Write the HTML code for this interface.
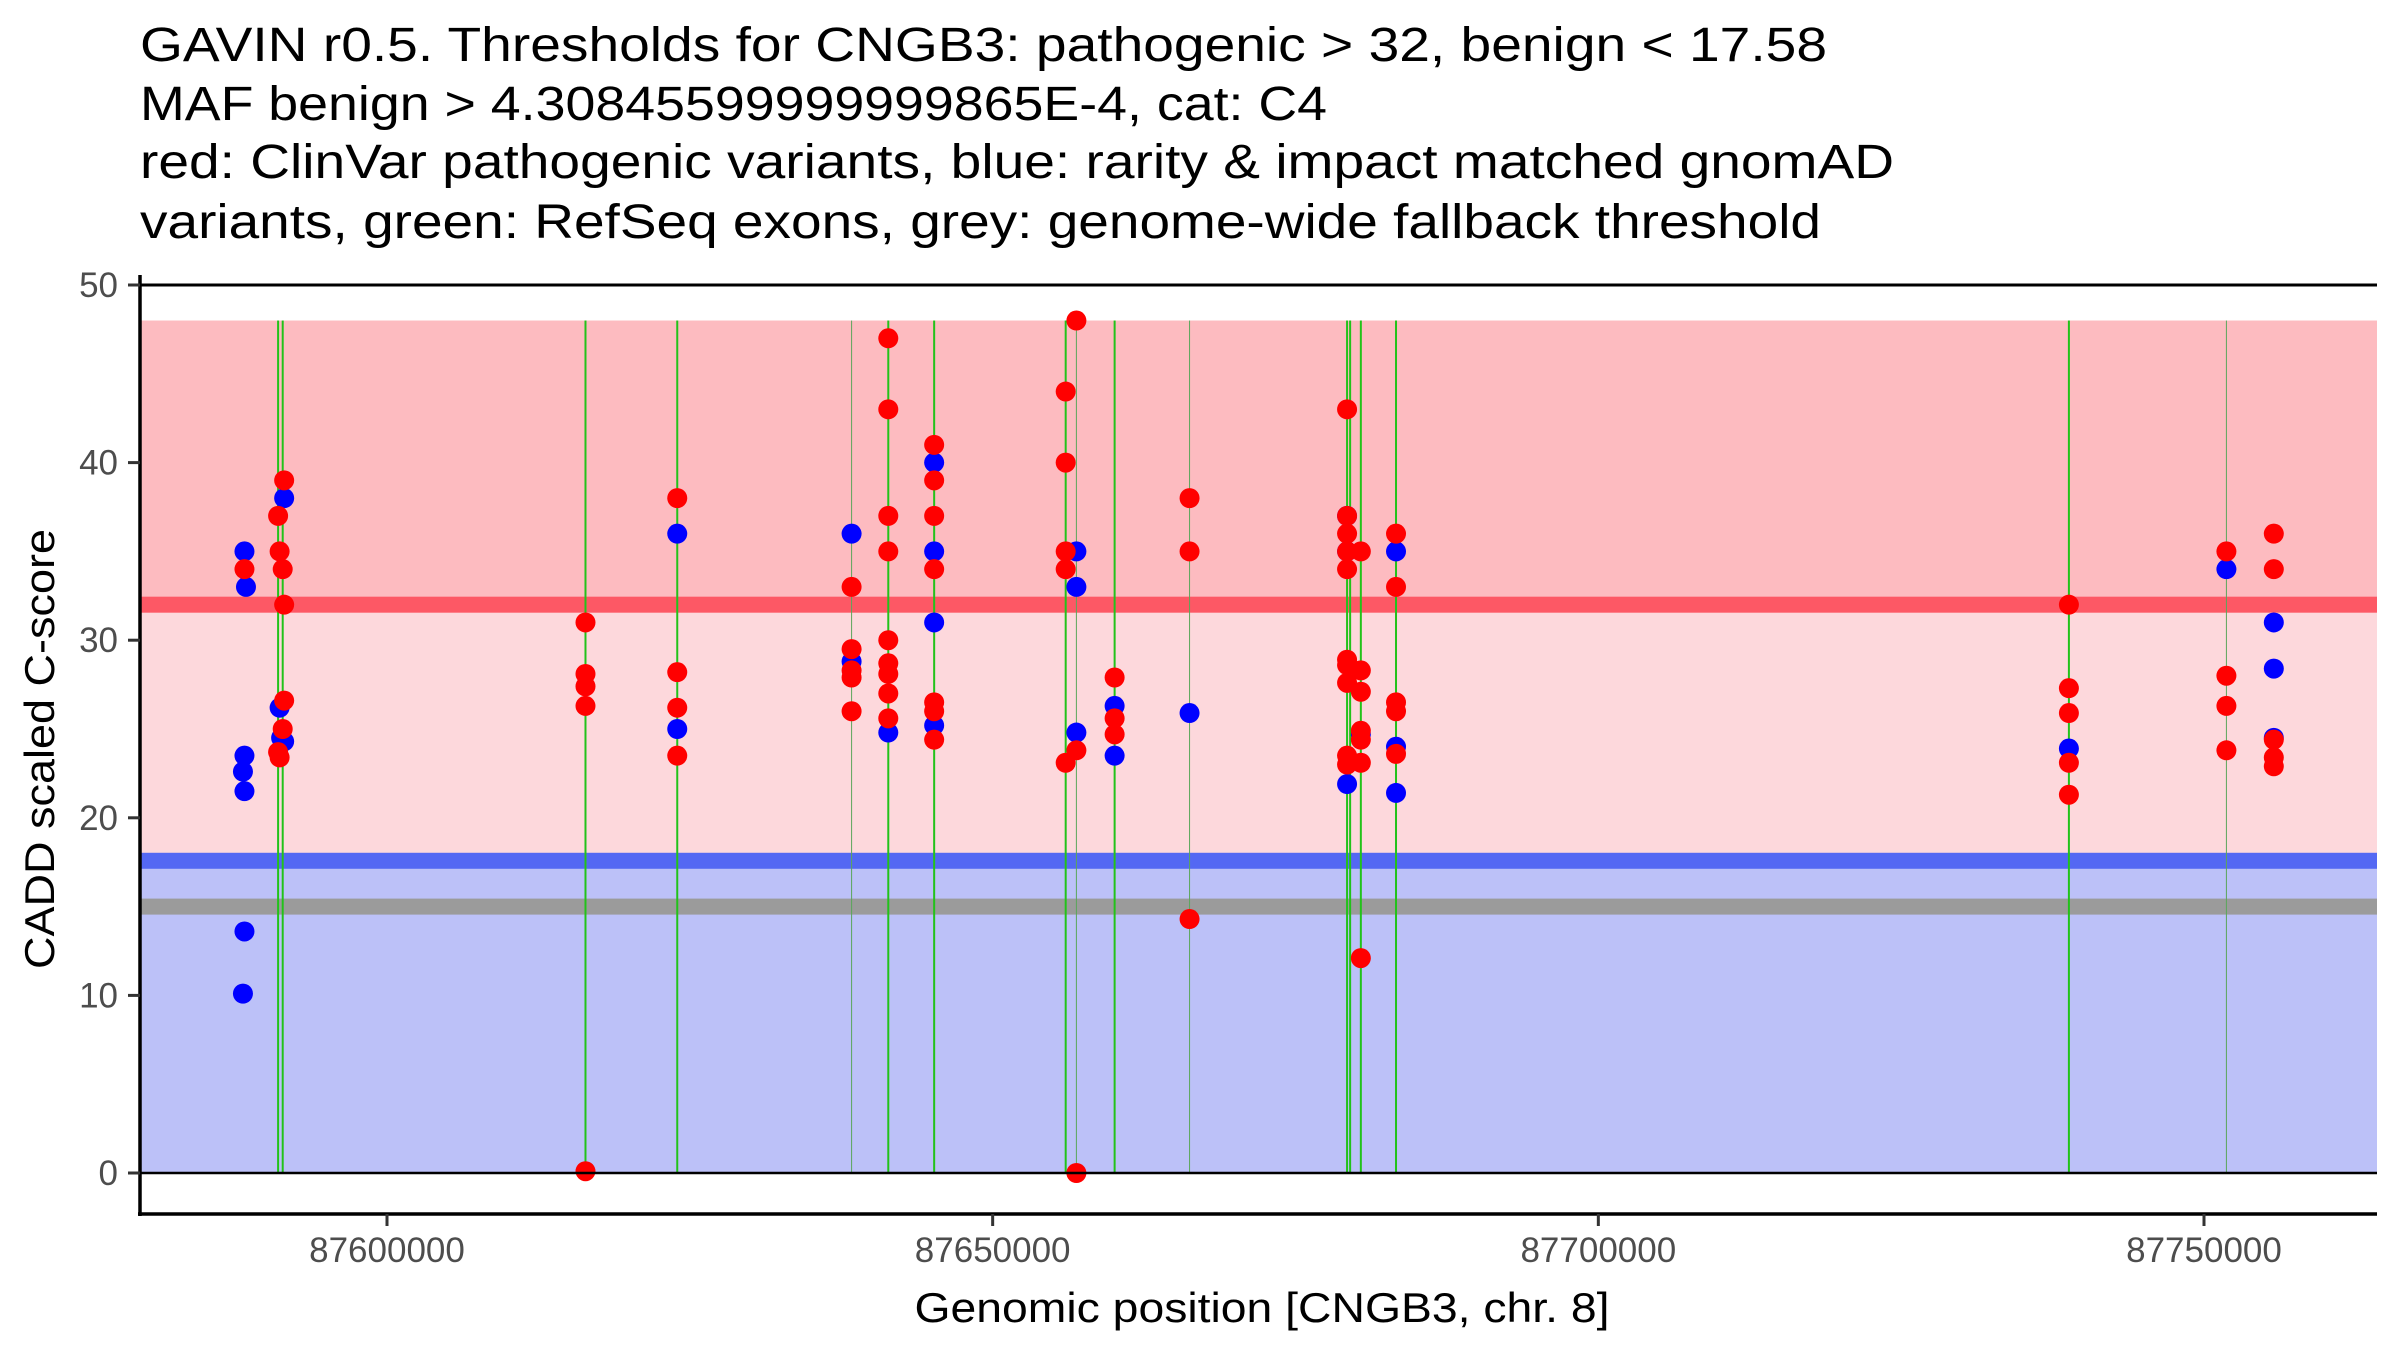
<!DOCTYPE html>
<html><head><meta charset="utf-8"><style>
html,body{margin:0;padding:0;background:#fff;}
svg{display:block;font-family:"Liberation Sans",Arial,sans-serif;}
</style></head><body>
<svg id="chart" width="2400" height="1350" viewBox="0 0 2400 1350" xmlns="http://www.w3.org/2000/svg">
<g font-size="48" fill="#000">
<text x="140" y="61" textLength="1687" lengthAdjust="spacingAndGlyphs">GAVIN r0.5. Thresholds for CNGB3: pathogenic &gt; 32, benign &lt; 17.58</text>
<text x="140" y="120" textLength="1187" lengthAdjust="spacingAndGlyphs">MAF benign &gt; 4.30845599999999865E-4, cat: C4</text>
<text x="140" y="178" textLength="1754" lengthAdjust="spacingAndGlyphs">red: ClinVar pathogenic variants, blue: rarity &amp; impact matched gnomAD</text>
<text x="140" y="238" textLength="1681" lengthAdjust="spacingAndGlyphs">variants, green: RefSeq exons, grey: genome-wide fallback threshold</text>
</g>
<g id="bands"></g>
<g id="exons"></g>
<g id="points"></g>
<g id="axes"></g>
</svg>
<script>
const xTicks = [87600000, 87650000, 87700000, 87750000];
const yTicks = [0, 10, 20, 30, 40, 50];
const pathoThreshold = 32;
const benignThreshold = 17.58;
const fallbackThreshold = 15;
const bandTop = 48;
const exonPos = [87591010,87591390,87616386,87623961,87638354,87641383,87645170,87656028,87656912,87660068,87666254,87679257,87679510,87680394,87683298,87738847,87751850];
const exonThin = [0,0,0,0,1,0,0,0,1,0,1,0,0,0,0,0,1];
const redPos = [87588233,87591010,87591510,87591135,87591390,87591510,87591510,87591390,87591010,87591135,
87616386,87616386,87616386,87616386,87616386,
87623961,87623961,87623961,87623961,
87638354,87638354,87638354,87638354,87638354,
87641383,87641383,87641383,87641383,87641383,87641383,87641383,87641383,87641383,
87645170,87645170,87645170,87645170,87645170,87645170,87645170,
87656028,87656028,87656028,87656028,87656028,
87656912,87656912,87656912,
87660068,87660068,87660068,
87666254,87666254,87666254,
87679257,87679257,87679257,87679257,87679257,87679257,87679257,87679257,87679257,87679257,
87680394,87680394,87680394,87680394,87680394,87680394,87680394,
87683298,87683298,87683298,87683298,87683298,
87738847,87738847,87738847,87738847,87738847,
87751850,87751850,87751850,87751850,
87755763,87755763,87755763,87755763,87755763];
const redScore = [34,37,39,35,34,32,26.6,25,23.7,23.4,
31,28.1,27.4,26.3,0.1,
38,28.2,26.2,23.5,
33,29.5,28.3,27.9,26,
47,43,37,35,30,28.7,28.1,27,25.6,
41,39,37,34,26.5,26,24.4,
44,40,35,34,23.1,
48,23.8,0,
27.9,25.6,24.7,
38,35,14.3,
43,37,36,35,34,28.9,28.6,27.6,23.5,23,
35,28.3,27.1,24.9,24.4,23.1,12.1,
36,33,26.5,26,23.6,
32,27.3,25.9,23.1,21.3,
35,28,26.3,23.8,
36,34,24.4,23.4,22.9];
const bluePos = [87588233,87588358,87588233,87588108,87588233,87588233,87588108,
87591510,87591135,87591260,87591510,
87623961,87623961,87638354,87638354,87641383,
87645170,87645170,87645170,87645170,
87656912,87656912,87656912,87660068,87660068,87666254,
87679257,87679257,87679257,87680394,
87683298,87683298,87683298,87738847,87751850,
87755763,87755763,87755763];
const blueScore = [35,33,23.5,22.6,21.5,13.6,10.1,
38,26.2,24.5,24.3,
36,25,36,28.8,24.8,
40,35,31,25.2,
35,33,24.8,26.3,23.5,25.9,
37,35,21.9,24.7,
35,24,21.4,23.9,34,
31,28.4,24.5];

const NS='http://www.w3.org/2000/svg';
const L=140,R=2377,AXB=1214;
function sx(v){return 387+(v-87600000)*(2204-387)/150000;}
function sy(v){return 1173-v*(1173-285)/50;}
function mk(tag,attrs,parent){const e=document.createElementNS(NS,tag);for(const k in attrs)e.setAttribute(k,attrs[k]);parent.appendChild(e);return e;}
const bands=document.getElementById('bands');
let e;
e=mk('rect',{x:L,y:sy(bandTop),width:R-L,height:sy(pathoThreshold)-sy(bandTop),fill:'#fdbbc0'},bands);


e=mk('rect',{x:L,y:sy(pathoThreshold),width:R-L,height:sy(benignThreshold)-sy(pathoThreshold),fill:'#fdd8dc'},bands);


e=mk('rect',{x:L,y:sy(benignThreshold),width:R-L,height:sy(0)-sy(benignThreshold),fill:'#bcc1f8'},bands);


e=mk('rect',{x:L,y:sy(pathoThreshold)-8,width:R-L,height:16,fill:'#fd5865'},bands);


e=mk('rect',{x:L,y:sy(benignThreshold)-8,width:R-L,height:16,fill:'#5468f3'},bands);


e=mk('rect',{x:L,y:sy(fallbackThreshold)-8,width:R-L,height:16,fill:'#9b9b9b'},bands);


const ex=document.getElementById('exons');
exonPos.forEach((p,i)=>{
  const l=mk('line',{x1:sx(p),x2:sx(p),y1:sy(bandTop),y2:sy(0),stroke:exonThin[i]?'#5aa65a':'#22c21a','stroke-width':exonThin[i]?1:2},ex);
  
  
});
const pts=document.getElementById('points');
bluePos.forEach((p,i)=>{
  const c=mk('circle',{cx:sx(p),cy:sy(blueScore[i]),r:10,fill:'#0000ff'},pts);
  
  
});
redPos.forEach((p,i)=>{
  const c=mk('circle',{cx:sx(p),cy:sy(redScore[i]),r:10,fill:'#ff0000'},pts);
  
  
});
const ax=document.getElementById('axes');
e=mk('line',{x1:L,x2:R,y1:sy(50),y2:sy(50),stroke:'#000','stroke-width':3},ax);


e=mk('line',{x1:L,x2:R,y1:sy(0),y2:sy(0),stroke:'#000','stroke-width':2.5},ax);


e=mk('line',{x1:L,x2:L,y1:sy(50)-10,y2:AXB+2,stroke:'#000','stroke-width':3.5},ax);


e=mk('line',{x1:L-2,x2:R,y1:AXB,y2:AXB,stroke:'#000','stroke-width':3.5},ax);


yTicks.forEach(v=>{
  const t=mk('line',{x1:L-12,x2:L,y1:sy(v),y2:sy(v),stroke:'#333','stroke-width':3},ax);
  
  
  const tx=mk('text',{x:118,y:sy(v)+12,'text-anchor':'end','font-size':35,fill:'#4d4d4d'},ax);
  tx.textContent=v;
  
  
});
xTicks.forEach(v=>{
  const t=mk('line',{x1:sx(v),x2:sx(v),y1:AXB,y2:AXB+12,stroke:'#333','stroke-width':3},ax);
  
  
  const tx=mk('text',{x:sx(v),y:1262,'text-anchor':'middle','font-size':35,fill:'#4d4d4d'},ax);
  tx.textContent=v;
  
  
});
e=mk('text',{x:1262,y:1322,'text-anchor':'middle','font-size':42,fill:'#000',textLength:695,lengthAdjust:'spacingAndGlyphs'},ax);
e.textContent='Genomic position [CNGB3, chr. 8]';


e=mk('text',{x:0,y:0,'text-anchor':'middle','font-size':42,fill:'#000',textLength:440,lengthAdjust:'spacingAndGlyphs',transform:'translate(54,749) rotate(-90)'},ax);
e.textContent='CADD scaled C-score';


</script>
</body></html>
